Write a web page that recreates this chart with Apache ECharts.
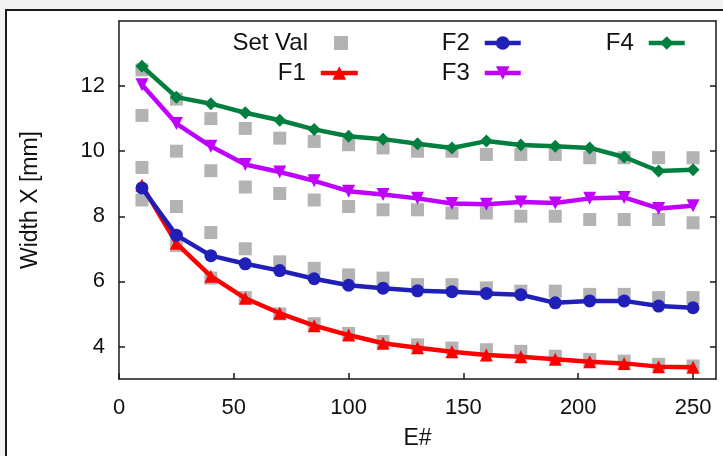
<!DOCTYPE html>
<html>
<head>
<meta charset="utf-8">
<script src="https://cdn.jsdelivr.net/npm/echarts@6/dist/echarts.min.js"></script>
<style>
html,body{margin:0;padding:0;background:#f2f2f2;}
#c{width:723px;height:456px;}
</style>
</head>
<body>
<div id="c"></div>
<script>
// ---- data ----
const xVals = [10, 25, 40, 55, 70, 85, 100, 115, 130, 145, 160, 175, 190, 205, 220, 235, 250];
const f1 = [8.95, 7.17, 6.16, 5.48, 5.02, 4.64, 4.35, 4.10, 3.96, 3.84, 3.74, 3.68, 3.61, 3.53, 3.48, 3.38, 3.36];
const f2 = [8.87, 7.42, 6.79, 6.54, 6.33, 6.08, 5.88, 5.79, 5.71, 5.68, 5.63, 5.59, 5.34, 5.40, 5.40, 5.24, 5.19];
const f3 = [12.04, 10.85, 10.15, 9.59, 9.36, 9.09, 8.77, 8.67, 8.55, 8.39, 8.37, 8.44, 8.41, 8.55, 8.58, 8.24, 8.32];
const f4 = [12.61, 11.66, 11.46, 11.18, 10.95, 10.67, 10.46, 10.37, 10.23, 10.10, 10.31, 10.19, 10.15, 10.10, 9.82, 9.39, 9.43];
const setF1 = [8.5, 7.1, 6.1, 5.5, 5.0, 4.7, 4.4, 4.15, 4.05, 3.95, 3.9, 3.85, 3.7, 3.6, 3.55, 3.45, 3.4];
const setF2 = [9.5, 8.3, 7.5, 7.0, 6.6, 6.4, 6.2, 6.1, 5.9, 5.9, 5.8, 5.7, 5.7, 5.6, 5.6, 5.5, 5.5];
const setF3 = [11.1, 10.0, 9.4, 8.9, 8.7, 8.5, 8.3, 8.2, 8.2, 8.1, 8.1, 8.0, 8.0, 7.9, 7.9, 7.9, 7.8];
const setF4 = [12.5, 11.6, 11.0, 10.7, 10.4, 10.3, 10.2, 10.1, 10.0, 10.0, 9.9, 9.9, 9.9, 9.8, 9.8, 9.8, 9.8];
const xTicks = [0, 50, 100, 150, 200, 250];
const yTicks = [4, 6, 8, 10, 12];
const xName = 'E#';
const yName = 'Width X [mm]';

// ---- build ----
const pairs = (ys) => xVals.map((x, i) => [x, ys[i]]);
const setData = [].concat(pairs(setF1), pairs(setF2), pairs(setF3), pairs(setF4));
const FONT = 'Liberation Sans, Arial, sans-serif';
const axisLineStyle = { color: '#1a1a1a', width: 1.5 };

function lineSeries(name, ys, color, symbol, size) {
  return {
    name, type: 'line', data: pairs(ys), symbol, symbolSize: size,
    lineStyle: { color, width: 4.5 }, itemStyle: { color },
    z: 3, animation: false
  };
}

function legendFor(name, right, top, w, h, pad) {
  return {
    data: [name], right, top, align: 'right', orient: 'horizontal',
    itemWidth: w, itemHeight: h, selectedMode: false, padding: 0,
    lineStyle: { width: 4.5 },
    textStyle: { fontFamily: FONT, fontSize: 24, color: '#111', padding: [0, pad, 0, 0] }
  };
}

const chart = echarts.init(document.getElementById('c'), null, { renderer: 'canvas' });
chart.setOption({
  backgroundColor: 'transparent',
  animation: false,
  graphic: [{
    type: 'rect', silent: true, z: -10,
    shape: { x: 6, y: 10, width: 800, height: 500 },
    style: { fill: '#ffffff', stroke: '#1a1a1a', lineWidth: 2 }
  }],
  grid: { left: 119, right: 7, top: 21, bottom: 77, containLabel: false },
  legend: [
    legendFor('Set Val', 723 - 348, 31, 14, 14, 21),
    legendFor('F1', 723 - 360, 61, 37, 17, 10),
    legendFor('F2', 723 - 523, 31, 36, 17, 10),
    legendFor('F3', 723 - 523, 61, 36, 17, 10),
    legendFor('F4', 723 - 687, 31, 36, 17, 10)
  ],
  xAxis: [{
    type: 'value', min: 0, max: 260, position: 'bottom',
    name: xName, nameLocation: 'middle', nameGap: 48,
    nameTextStyle: { fontFamily: FONT, fontSize: 23, color: '#111' },
    axisLine: { show: true, onZero: false, lineStyle: axisLineStyle },
    axisTick: { show: true, inside: true, length: 6, customValues: xTicks, lineStyle: axisLineStyle },
    axisLabel: { customValues: xTicks, fontFamily: FONT, fontSize: 22, color: '#111', margin: 18 },
    splitLine: { show: false }
  }, {
    type: 'value', min: 0, max: 260, position: 'top',
    axisLine: { show: true, onZero: false, lineStyle: axisLineStyle },
    axisTick: { show: false }, axisLabel: { show: false }, splitLine: { show: false }
  }],
  yAxis: [{
    type: 'value', min: 3, max: 14, position: 'left',
    name: yName, nameLocation: 'middle', nameGap: 77, nameRotate: 90,
    nameTextStyle: { fontFamily: FONT, fontSize: 23, color: '#111' },
    axisLine: { show: true, onZero: false, lineStyle: axisLineStyle },
    axisTick: { show: true, inside: true, length: 6, customValues: yTicks, lineStyle: axisLineStyle },
    axisLabel: { customValues: yTicks, fontFamily: FONT, fontSize: 22, color: '#111', margin: 14 },
    splitLine: { show: false }
  }, {
    type: 'value', min: 3, max: 14, position: 'right',
    axisLine: { show: true, onZero: false, lineStyle: axisLineStyle },
    axisTick: { show: true, inside: true, length: 6, customValues: yTicks, lineStyle: axisLineStyle },
    axisLabel: { show: false }, splitLine: { show: false }
  }],
  series: [
    {
      name: 'Set Val', type: 'scatter', data: setData, symbol: 'rect', symbolSize: 13,
      itemStyle: { color: '#a0a0a0' }, z: 2, animation: false
    },
    lineSeries('F1', f1, '#ff0000', 'triangle', 13),
    lineSeries('F2', f2, '#2020b8', 'circle', 13),
    lineSeries('F3', f3, '#c000ff', 'path://M0,0 L10,0 L5,9 Z', 13),
    lineSeries('F4', f4, '#007f3f', 'diamond', 13)
  ]
});
</script>
</body>
</html>
